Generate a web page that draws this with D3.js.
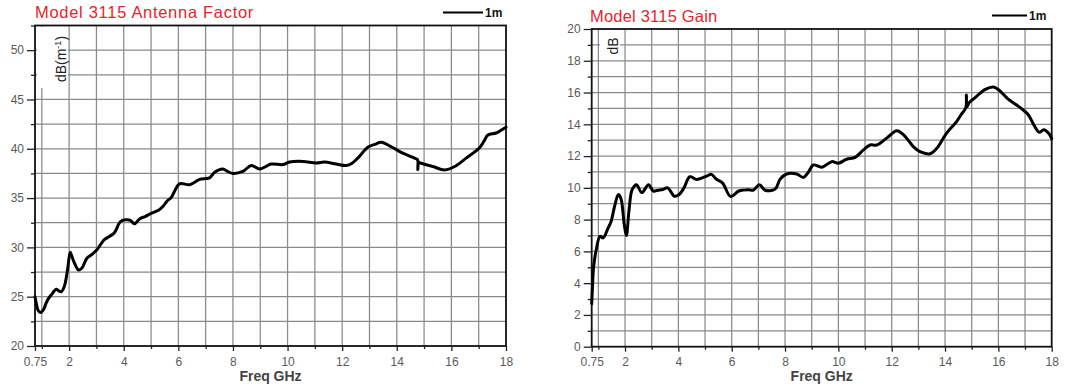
<!DOCTYPE html>
<html>
<head>
<meta charset="utf-8">
<script src="https://cdn.jsdelivr.net/npm/d3@7"></script>
<style>
  html, body { margin: 0; padding: 0; background: #fff; }
  svg { display: block; }
  text { font-family: "Liberation Sans", Arial, sans-serif; }
</style>
</head>
<body>
<svg id="chart" width="1079" height="390"></svg>
<script>
// ---------- data ----------
const afFreq = [0.75,0.8,0.86,0.94,1.06,1.15,1.24,1.35,1.53,1.62,1.71,1.82,1.94,2.04,2.1,2.18,2.35,2.47,2.65,2.82,3.0,3.18,3.3,3.47,3.65,3.88,4.06,4.24,4.39,4.59,4.8,5.0,5.29,5.45,5.59,5.75,5.88,6.04,6.41,6.6,6.78,7.14,7.32,7.63,7.8,8.0,8.36,8.67,8.97,9.2,9.4,9.83,10.07,10.56,11.05,11.35,11.78,12.15,12.35,12.57,12.94,13.2,13.43,13.86,14.22,14.65,14.76,14.77,14.79,14.86,15.32,15.75,16.12,16.54,17.03,17.2,17.34,17.64,17.95,18.0];
const afValue = [25.0,24.3,23.65,23.4,23.7,24.3,24.8,25.2,25.75,25.6,25.5,26.0,27.7,29.5,29.1,28.5,27.7,27.9,28.9,29.25,29.7,30.4,30.8,31.1,31.45,32.6,32.8,32.75,32.4,32.9,33.15,33.45,33.8,34.2,34.7,35.1,35.8,36.45,36.35,36.6,36.9,37.05,37.6,37.95,37.7,37.5,37.7,38.3,37.95,38.2,38.45,38.4,38.65,38.72,38.55,38.65,38.45,38.3,38.5,39.05,40.15,40.45,40.65,40.1,39.55,39.05,38.9,37.9,38.6,38.55,38.2,37.85,38.2,39.05,40.1,40.8,41.4,41.6,42.1,42.2];

const gainFreq = [0.75,0.78,0.82,0.92,1.06,1.18,1.36,1.48,1.61,1.75,1.85,1.97,2.05,2.15,2.27,2.43,2.63,2.88,3.06,3.24,3.42,3.6,3.85,4.03,4.21,4.43,4.69,5.06,5.24,5.42,5.66,5.96,6.27,6.63,6.81,7.04,7.25,7.63,7.81,8.06,8.44,8.69,8.88,9.06,9.38,9.75,10.0,10.31,10.63,10.94,11.19,11.44,11.81,12.19,12.44,12.81,13.06,13.44,13.69,14.06,14.44,14.6,14.78,14.8,14.82,14.9,15.14,15.51,15.82,16.06,16.37,16.73,17.1,17.35,17.53,17.7,17.9,18.0];
const gainValue = [2.7,3.8,5.0,6.1,6.95,6.85,7.45,7.9,8.85,9.58,9.3,7.7,7.0,8.6,9.9,10.2,9.7,10.2,9.8,9.85,9.9,10.0,9.47,9.58,10.0,10.7,10.53,10.74,10.85,10.55,10.3,9.45,9.8,9.88,9.85,10.2,9.85,9.92,10.53,10.87,10.87,10.66,11.0,11.44,11.3,11.65,11.55,11.8,11.92,12.39,12.7,12.7,13.13,13.6,13.35,12.6,12.28,12.15,12.49,13.45,14.19,14.6,15.05,15.85,15.1,15.35,15.7,16.2,16.35,16.1,15.58,15.16,14.65,13.9,13.5,13.65,13.4,13.1];

const xTickLabels = [0.75, 2, 4, 6, 8, 10, 12, 14, 16, 18];
const xMinorTicks = [1, 3, 5, 7, 9, 11, 13, 15, 17];
const xGrid = [1,2,3,4,5,6,7,8,9,10,11,12,13,14,15,16,17];

const afYTicks = [20, 25, 30, 35, 40, 45, 50];
const afYMinor = [22.5, 27.5, 32.5, 37.5, 42.5, 47.5, 52.5];
const afYGrid = [22.5, 25, 27.5, 30, 32.5, 35, 37.5, 40, 42.5, 45, 47.5, 50];

const gainYTicks = [0, 2, 4, 6, 8, 10, 12, 14, 16, 18, 20];
const gainYMinor = [1, 3, 5, 7, 9, 11, 13, 15, 17, 19];
const gainYGrid = [1,2,3,4,5,6,7,8,9,10,11,12,13,14,15,16,17,18,19];

// ---------- drawing ----------
const svg = d3.select("#chart");

function drawChart(cfg) {
  const g = svg.append("g");
  const x = d3.scaleLinear().domain([0.75, 18]).range([cfg.x0, cfg.x1]);
  const y = d3.scaleLinear().domain(cfg.yDomain).range([cfg.y0, cfg.y1]);

  // grid
  g.append("g").selectAll("line").data(xGrid).join("line")
    .attr("x1", d => x(d)).attr("x2", d => x(d))
    .attr("y1", cfg.y0).attr("y2", cfg.y1)
    .attr("stroke", "#8a8a8a").attr("stroke-width", 1.25);
  g.append("g").selectAll("line").data(cfg.yGrid).join("line")
    .attr("y1", d => y(d)).attr("y2", d => y(d))
    .attr("x1", cfg.x0).attr("x2", cfg.x1)
    .attr("stroke", "#8a8a8a").attr("stroke-width", 1.25);

  // white label box
  g.append("rect")
    .attr("x", cfg.box[0]).attr("y", cfg.box[1])
    .attr("width", cfg.box[2]).attr("height", cfg.box[3])
    .attr("fill", "#fff");

  // y label
  const yl = g.append("text")
    .attr("transform", `translate(${cfg.ylabelPos[0]},${cfg.ylabelPos[1]}) rotate(-90)`)
    .attr("text-anchor", "middle")
    .attr("font-size", 14).attr("fill", "#222");
  cfg.ylabel(yl);

  // frame
  g.append("rect")
    .attr("x", cfg.x0).attr("y", cfg.y1)
    .attr("width", cfg.x1 - cfg.x0).attr("height", cfg.y0 - cfg.y1)
    .attr("fill", "none").attr("stroke", "#111").attr("stroke-width", 1.8);

  // axes
  const xAxis = d3.axisBottom(x).tickValues(xTickLabels)
    .tickFormat(d => d === 0.75 ? "0.75" : d3.format("d")(d))
    .tickSize(5).tickPadding(6);
  g.append("g").attr("transform", `translate(0,${cfg.y0})`).call(xAxis);
  const xMinor = d3.axisBottom(x).tickValues(xMinorTicks).tickFormat("").tickSize(3);
  g.append("g").attr("transform", `translate(0,${cfg.y0})`).call(xMinor);

  const yAxis = d3.axisLeft(y).tickValues(cfg.yTicks).tickFormat(d3.format("d"))
    .tickSize(8).tickPadding(3);
  g.append("g").attr("transform", `translate(${cfg.x0},0)`).call(yAxis);
  const yMinor = d3.axisLeft(y).tickValues(cfg.yMinor).tickFormat("").tickSize(4);
  g.append("g").attr("transform", `translate(${cfg.x0},0)`).call(yMinor);

  g.selectAll(".domain").remove();
  g.selectAll(".tick line").attr("stroke", "#222").attr("stroke-width", 1.3);
  g.selectAll(".tick text").attr("fill", "#5a5a5a").attr("font-size", 12)
    .attr("font-family", "'Liberation Sans', Arial, sans-serif");

  // x label
  g.append("text")
    .attr("x", (cfg.x0 + cfg.x1) / 2).attr("y", 381)
    .attr("text-anchor", "middle")
    .attr("font-size", 14).attr("font-weight", "bold").attr("fill", "#444")
    .text("Freq GHz");

  // data line
  const pts = cfg.freq.map((f, i) => [f, cfg.vals[i]]);
  g.append("path")
    .datum(pts)
    .attr("fill", "none").attr("stroke", "#000").attr("stroke-width", 3)
    .attr("stroke-linejoin", "round").attr("stroke-linecap", "round")
    .attr("d", d3.line().x(d => x(d[0])).y(d => y(d[1])).curve(d3.curveCatmullRom.alpha(0.5)));

  // title
  g.append("text")
    .attr("x", cfg.titlePos[0]).attr("y", cfg.titlePos[1])
    .attr("font-size", 16.5).attr("letter-spacing", cfg.titleSpacing + "px")
    .attr("fill", "#e3262b")
    .text(cfg.title);

  // legend
  g.append("line")
    .attr("x1", cfg.legend[0]).attr("x2", cfg.legend[0] + cfg.legend[2])
    .attr("y1", cfg.legend[1]).attr("y2", cfg.legend[1])
    .attr("stroke", "#000").attr("stroke-width", 2.2);
  g.append("text")
    .attr("x", cfg.legend[0] + cfg.legend[2] + 2).attr("y", cfg.legend[1] + 4.5)
    .attr("font-size", 12).attr("font-weight", "bold").attr("fill", "#111")
    .text("1m");
}

drawChart({
  x0: 35, x1: 506, y0: 346, y1: 25.5,
  yDomain: [20, 52.5],
  yTicks: afYTicks, yMinor: afYMinor, yGrid: afYGrid,
  freq: afFreq, vals: afValue,
  title: "Model 3115 Antenna Factor", titlePos: [35, 18], titleSpacing: 0.7,
  legend: [443, 12.5, 40],
  box: [37, 27, 31, 61],
  ylabelPos: [66, 59],
  ylabel: t => {
    t.append("tspan").text("dB(m");
    t.append("tspan").attr("font-size", 9).attr("dy", -5).text("-1");
    t.append("tspan").attr("dy", 5).text(")");
  }
});

drawChart({
  x0: 591.7, x1: 1051.7, y0: 346.7, y1: 29,
  yDomain: [0, 20],
  yTicks: gainYTicks, yMinor: gainYMinor, yGrid: gainYGrid,
  freq: gainFreq, vals: gainValue,
  title: "Model 3115 Gain", titlePos: [590, 21.5], titleSpacing: 0.2,
  legend: [992, 15.5, 35],
  box: [600, 30, 20, 29],
  ylabelPos: [618, 46],
  ylabel: t => { t.text("dB"); }
});
</script>
</body>
</html>
